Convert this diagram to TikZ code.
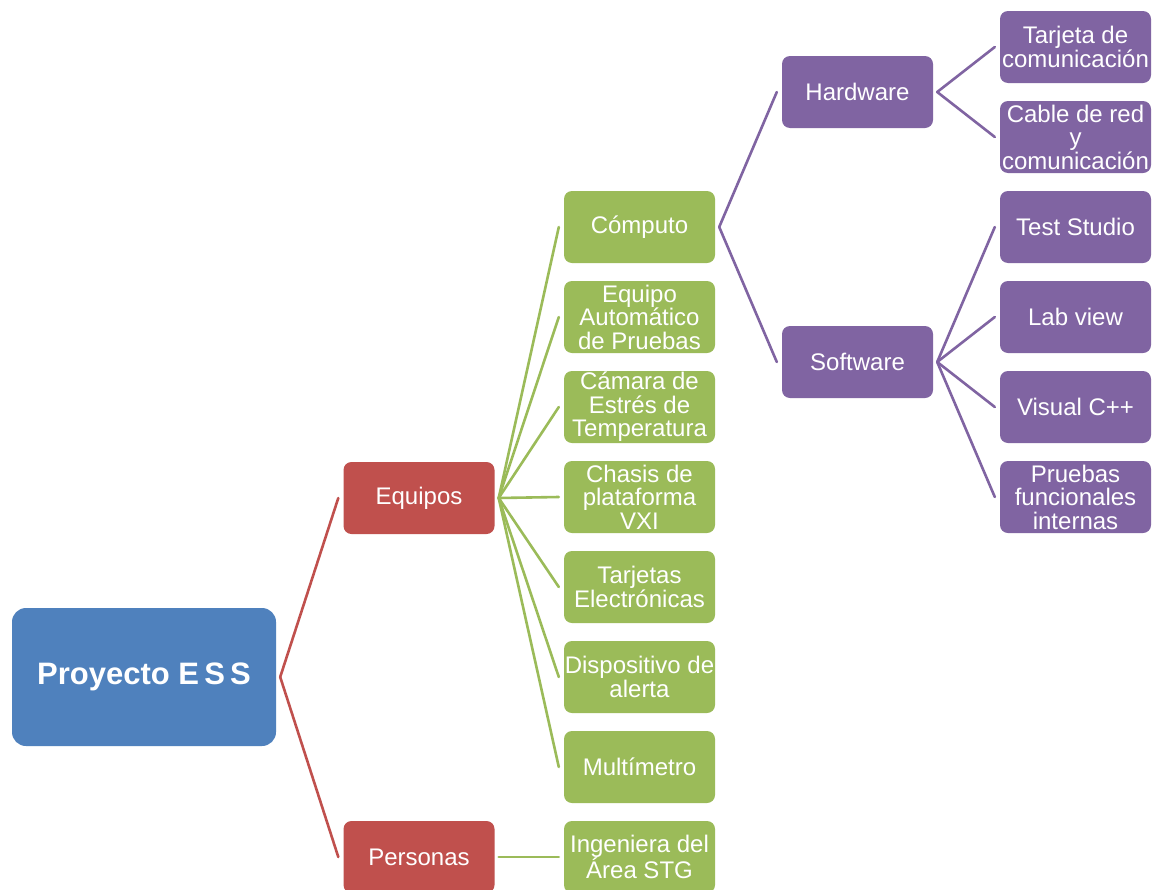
\documentclass[tikz,border=0pt]{standalone}
\usepackage{fontspec}
\setmainfont{Liberation Sans}
\definecolor{cblue}{HTML}{4F81BD}
\definecolor{cred}{HTML}{C0504D}
\definecolor{cgreen}{HTML}{9BBB59}
\definecolor{cpurple}{HTML}{8064A2}
\tikzset{
  box/.style={rounded corners=8pt, minimum width=151pt, minimum height=72pt, inner sep=0pt,
    align=center, text=white, font=\fontsize{24}{23.5}\selectfont},
  rootbox/.style={box, fill=cblue, rounded corners=14pt, minimum width=264pt, minimum height=138pt,
    font=\fontsize{31}{33}\selectfont\bfseries},
  redbox/.style={box, fill=cred},
  greenbox/.style={box, fill=cgreen},
  purplebox/.style={box, fill=cpurple},
  link/.style={line width=2.6pt, line cap=round},
}
\newcommand{\conn}[3]{\draw[link,#1] ([xshift=4pt]#2.east) -- ([xshift=-5pt]#3.west);}
\begin{document}
\begin{tikzpicture}[x=1pt,y=-1pt]
\clip (0,0) rectangle (1154,889);
\useasboundingbox (0,0) rectangle (1154,889);
\fill[white] (0,0) rectangle (1154,889);
\node[rootbox] (root) at (144,677) {Proyecto E\,S\,S};
\node[redbox] (equipos) at (419,498) {Equipos};
\node[redbox] (personas) at (419,857) {Personas};
\node[greenbox] (computo) at (639.5,227) {Cómputo};
\node[greenbox] (eap) at (639.5,317) {Equipo\\Automático\\de Pruebas};
\node[greenbox] (camara) at (639.5,407) {Cámara de\\Estrés de\\Temperatura};
\node[greenbox] (chasis) at (639.5,497) {Chasis de\\plataforma\\VXI};
\node[greenbox] (tarjetas) at (639.5,587) {Tarjetas\\Electrónicas};
\node[greenbox] (dispositivo) at (639.5,677) {Dispositivo de\\alerta};
\node[greenbox] (multimetro) at (639.5,767) {Multímetro};
\node[greenbox] (ingeniera) at (639.5,857) {Ingeniera del\\Área STG};
\node[purplebox] (hardware) at (857.5,92) {Hardware};
\node[purplebox] (software) at (857.5,362) {Software};
\node[purplebox] (tarjcom) at (1075.5,47) {Tarjeta de\\comunicación};
\node[purplebox] (cable) at (1075.5,137) {Cable de red\\y\\comunicación};
\node[purplebox] (test) at (1075.5,227) {Test Studio};
\node[purplebox] (lab) at (1075.5,317) {Lab view};
\node[purplebox] (visual) at (1075.5,407) {Visual C++};
\node[purplebox] (pruebas) at (1075.5,497) {Pruebas\\funcionales\\internas};
\conn{cred}{root}{equipos}
\conn{cred}{root}{personas}
\foreach \n in {computo,eap,camara,chasis,tarjetas,dispositivo,multimetro}{\conn{cgreen}{equipos}{\n}}
\conn{cgreen}{personas}{ingeniera}
\conn{cpurple}{computo}{hardware}
\conn{cpurple}{computo}{software}
\conn{cpurple}{hardware}{tarjcom}
\conn{cpurple}{hardware}{cable}
\foreach \n in {test,lab,visual,pruebas}{\conn{cpurple}{software}{\n}}
\end{tikzpicture}
\end{document}
